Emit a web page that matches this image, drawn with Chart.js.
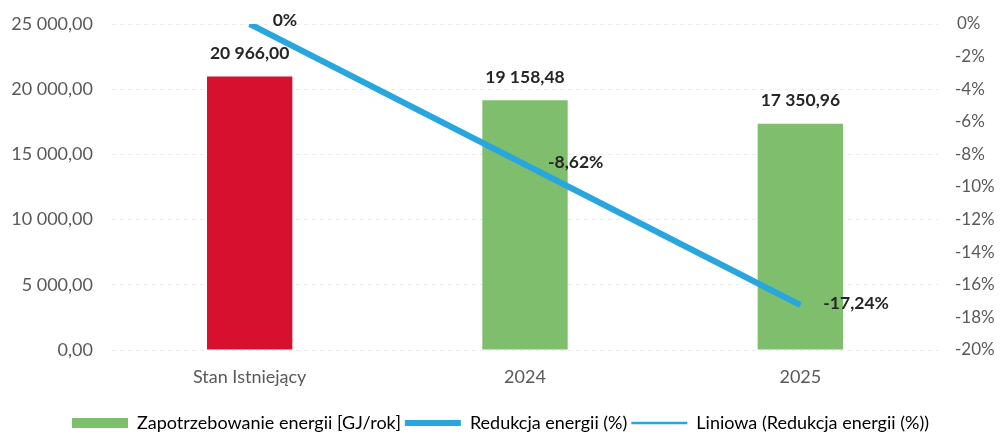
<!DOCTYPE html>
<html>
<head>
<meta charset="utf-8">
<script src="https://cdn.jsdelivr.net/npm/chart.js@4.4.0/dist/chart.umd.min.js"></script>
<style>
  html, body { margin: 0; padding: 0; background: #fff; }
  #wrap { width: 1001px; height: 434px; }
</style>
</head>
<body>
<div id="wrap"><canvas id="wykres"></canvas></div>
<script>
// dane
const kategorie = ["Stan Istniejący", "2024", "2025"];
const zapotrzebowanie = [20966.0, 19158.48, 17350.96];
const redukcja = [0, -8.62, -17.24];
const kolorySlupkow = ["#d6102e", "#7fbe6c", "#7fbe6c"];
const niebieski = "#29a6de";
const szary = "#595959";

// liniowa linia trendu z danych redukcji (regresja)
function trendLiniowy(vals) {
  const n = vals.length;
  let sx = 0, sy = 0, sxy = 0, sxx = 0;
  vals.forEach((v, i) => { sx += i; sy += v; sxy += i * v; sxx += i * i; });
  const a = (n * sxy - sx * sy) / (n * sxx - sx * sx);
  const b = (sy - a * sx) / n;
  return vals.map((v, i) => a * i + b);
}
const trend = trendLiniowy(redukcja);

function fmtLiczba(v) {
  // separator tysięcy spacją, przecinek dziesiętny
  const parts = v.toFixed(2).split(".");
  return parts[0].replace(/\B(?=(\d{3})+(?!\d))/g, " ") + "," + parts[1];
}

// etykiety obu osi Y rysowane recznie (pozycje z skal Chart.js)
const osie = {
  id: "osie",
  afterDraw(chart) {
    const ctx = chart.ctx;
    ctx.save();
    ctx.fillStyle = szary;
    ctx.textBaseline = "middle";
    const sc = chart.scales.y;
    ctx.font = "18px Lato";
    ctx.textAlign = "right";
    sc.ticks.forEach((t) => {
      ctx.fillText(fmtLiczba(t.value), 93, sc.getPixelForValue(t.value));
    });
    const sc1 = chart.scales.y1;
    ctx.font = "17px Lato";
    ctx.textAlign = "left";
    sc1.ticks.forEach((t) => {
      const x = t.value < 0 ? 955 : 957;
      ctx.fillText(t.value + "%", x, sc1.getPixelForValue(t.value));
    });
    ctx.restore();
  }
};

const etykiety = {
  id: "etykiety",
  afterDatasetsDraw(chart) {
    const ctx = chart.ctx;
    ctx.save();
    ctx.font = "bold 17.5px Lato";
    ctx.fillStyle = "#262626";
    ctx.textBaseline = "middle";
    chart.getDatasetMeta(0).data.forEach((el, i) => {
      ctx.textAlign = "center";
      ctx.fillText(fmtLiczba(zapotrzebowanie[i]), el.x, el.y - 23);
    });
    chart.getDatasetMeta(1).data.forEach((el, i) => {
      ctx.textAlign = "left";
      const txt = (redukcja[i] === 0 ? "0" : redukcja[i].toFixed(2).replace(".", ",")) + "%";
      ctx.fillText(txt, el.x + 23, el.y - 4 + (i === 0 ? 0 : 2));
    });
    ctx.restore();
  }
};

const ctx = document.getElementById("wykres").getContext("2d");
const chart = new Chart(ctx, {
  type: "bar",
  data: {
    labels: kategorie,
    datasets: [
      {
        label: "Zapotrzebowanie energii [GJ/rok]",
        data: zapotrzebowanie,
        backgroundColor: kolorySlupkow,
        yAxisID: "y",
        categoryPercentage: 1,
        barPercentage: 0.31,
        order: 3,
      },
      {
        type: "line",
        label: "Redukcja energii (%)",
        data: redukcja,
        borderColor: niebieski,
        backgroundColor: niebieski,
        borderWidth: 6,
        pointRadius: 0,
        yAxisID: "y1",
        order: 2,
      },
      {
        type: "line",
        label: "Liniowa (Redukcja energii (%))",
        data: trend,
        borderColor: niebieski,
        backgroundColor: niebieski,
        borderWidth: 2,
        pointRadius: 0,
        yAxisID: "y1",
        order: 1,
      },
    ],
  },
  options: {
    responsive: true,
    maintainAspectRatio: false,
    animation: false,
    layout: { padding: { top: 24, left: 0, right: 0, bottom: -8 } },
    scales: {
      x: {
        afterFit(scale) { scale.height = 60; },
        grid: { display: false, drawTicks: false },
        border: { display: false },
        ticks: { color: szary, font: { family: "Lato", size: 18 }, padding: 16 },
      },
      y: {
        position: "left",
        min: 0,
        max: 25000,
        afterFit(scale) { scale.width = 112; },
        grid: { color: "#ececec", drawTicks: false },
        border: { display: false, dash: [4, 4] },
        ticks: { stepSize: 5000, display: false },
      },
      y1: {
        position: "right",
        min: -20,
        max: 0,
        afterFit(scale) { scale.width = 63; },
        grid: { display: false, drawTicks: false },
        border: { display: false },
        ticks: { stepSize: 2, display: false },
      },
    },
    plugins: {
      tooltip: { enabled: false },
      legend: {
        position: "bottom",
        labels: {
          color: szary,
          font: { family: "Lato", size: 18 },
          usePointStyle: true,
          pointStyleWidth: 56,
          boxHeight: 10,
          padding: 4,
          generateLabels: (ch) => [
            { text: ch.data.datasets[0].label, fillStyle: "#7fbe6c", strokeStyle: "#7fbe6c", lineWidth: 0, pointStyle: "rect", datasetIndex: 0 },
            { text: ch.data.datasets[1].label, fillStyle: niebieski, strokeStyle: niebieski, lineWidth: 6, pointStyle: "line", datasetIndex: 1 },
            { text: ch.data.datasets[2].label, fillStyle: niebieski, strokeStyle: niebieski, lineWidth: 2.5, pointStyle: "line", datasetIndex: 2 },
          ],
        },
      },
    },
  },
  plugins: [etykiety, osie],
});
</script>
</body>
</html>
